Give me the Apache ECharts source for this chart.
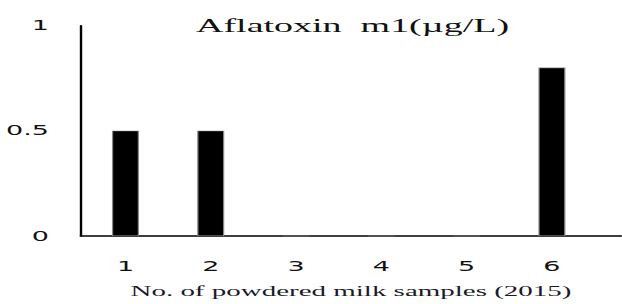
<!DOCTYPE html>
<html>
<head>
<meta charset="utf-8">
<script src="https://cdn.jsdelivr.net/npm/echarts@6/dist/echarts.min.js"></script>
<style>
html,body{margin:0;padding:0;background:#fff;overflow:hidden;}
#c{width:311px;height:304px;transform:scaleX(2);transform-origin:0 0;}
</style>
</head>
<body>
<div id="c"></div>
<script>
var samples = [1, 2, 3, 4, 5, 6];
var aflatoxinM1 = [0.5, 0.5, 0, 0, 0, 0.8];
var yTicks = [0, 0.5, 1];
var titleText = 'Aflatoxin  m1(\u00b5g/L)';
var xName = 'No. of powdered milk samples (2015)';

var chart = echarts.init(document.getElementById('c'), null, {renderer: 'svg'});
chart.setOption({
  animation: false,
  backgroundColor: '#fff',
  title: {
    text: titleText,
    left: 93,
    top: 11,
    textStyle: {fontFamily: 'Liberation Serif', fontSize: 19, fontWeight: 'normal', color: '#111'}
  },
  grid: {left: 39.5, right: 0.5, top: 25.5, bottom: 63.3, containLabel: false},
  xAxis: {
    type: 'value',
    min: 0.478,
    max: 6.81,
    name: xName,
    nameLocation: 'middle',
    nameGap: 48,
    nameTextStyle: {fontFamily: 'Liberation Serif', fontSize: 14.5, color: '#1a1a2a'},
    splitLine: {show: false},
    axisTick: {show: false},
    axisLine: {show: true, lineStyle: {color: '#000', width: 1.5}},
    axisLabel: {
      customValues: samples,
      margin: 23,
      fontFamily: 'DejaVu Sans',
      fontSize: 13.5,
      color: '#111'
    }
  },
  yAxis: {
    type: 'value',
    min: yTicks[0],
    max: yTicks[yTicks.length - 1],
    interval: yTicks[1] - yTicks[0],
    splitLine: {show: false},
    axisTick: {show: false},
    axisLine: {show: true, lineStyle: {color: '#000', width: 1.2}},
    axisLabel: {margin: 16, fontFamily: 'DejaVu Sans', fontSize: 13.5, color: '#111'}
  },
  series: [{
    type: 'bar',
    barWidth: 13.5,
    data: samples.map(function (s, i) { return [s, aflatoxinM1[i]]; }),
    itemStyle: {color: '#000', borderColor: '#888', borderWidth: 0.6}
  }]
});
</script>
</body>
</html>
